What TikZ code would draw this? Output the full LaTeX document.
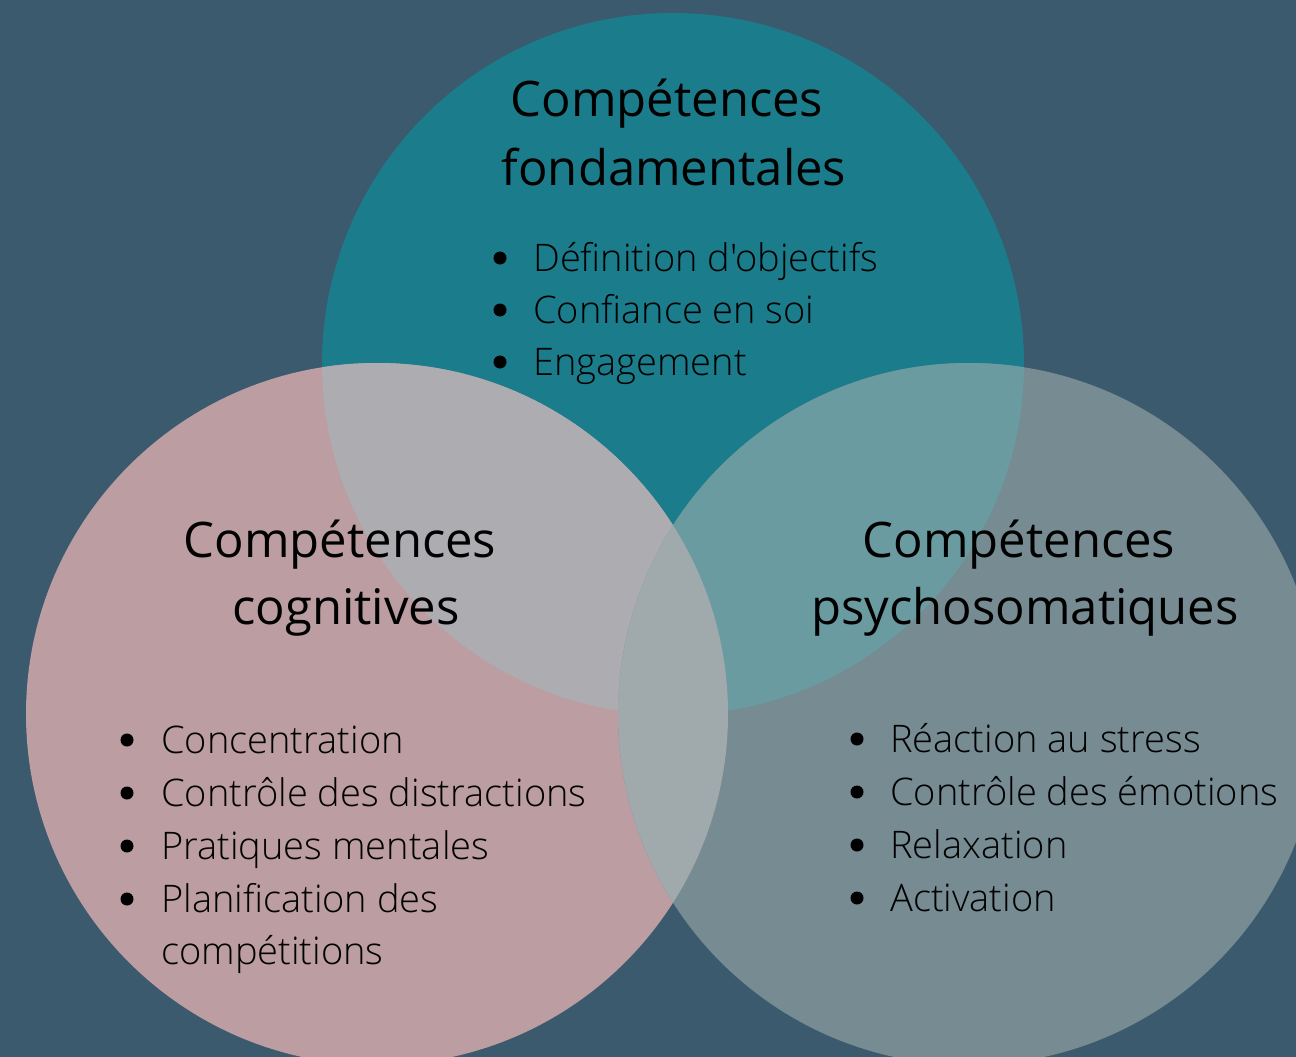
\documentclass[tikz,border=0pt]{standalone}
\usepackage{fontspec}
\setmainfont{Open Sans}
\newfontfamily\lightfont{Open Sans Light}
\usetikzlibrary{calc,positioning}

\definecolor{fond}{HTML}{3B5A6D}
\definecolor{sarcelle}{HTML}{1B7D8C}
\definecolor{rose}{HTML}{BB9DA2}
\definecolor{gris}{HTML}{768B92}
\definecolor{rosesarcelle}{HTML}{ADACB0}
\definecolor{sarcellegris}{HTML}{699BA0}
\definecolor{rosegris}{HTML}{A0AAAC}

\begin{document}
\begin{tikzpicture}[x=1pt,y=-1pt,
		titre/.style={anchor=base,inner sep=0pt,font=\fontsize{49}{67}\selectfont},
		item/.style={anchor=base west,inner sep=0pt,font=\lightfont\fontsize{38}{53}\selectfont},
		puce/.style={circle,fill=black,inner sep=0pt,minimum size=13pt}]
		\fill[fond] (0,0) rectangle (1296,1057);
		\useasboundingbox (0,0) rectangle (1296,1057);
		\coordinate (ct) at (673,364);
		\coordinate (cl) at (377,714);
		\coordinate (cr) at (969,714);
		\fill[sarcelle] (ct) circle (351pt);
		\fill[rose] (cl) circle (351pt);
		\fill[gris] (cr) circle (351pt);
		% intersections
		\begin{scope}
			\clip (ct) circle (351pt);
			\fill[rosesarcelle] (cl) circle (351pt);
			\fill[sarcellegris] (cr) circle (351pt);
		\end{scope}
		\begin{scope}
			\clip (cl) circle (351pt);
			\fill[rosegris] (cr) circle (351pt);
		\end{scope}

		% titres
		\node[titre] (tf1) at (667,117) {Compétences};
		\node[titre] (tf2) at (674,185) {fondamentales};
		\node[titre] (tc1) at (340,557) {Compétences};
		\node[titre] (tc2) at (346,624) {cognitives};
		\node[titre] (tp1) at (1019,557) {Compétences};
		\node[titre] (tp2) at (1025,624) {psychosomatiques};

		% listes
		\foreach \txt [count=\i] in {{Définition d'objectifs},{Confiance en soi},{Engagement}}{
			\node[item] (lf\i) at (533,{271+52*(\i-1)}) {\txt};
			\node[puce] (pf\i) at ($(lf\i.base west)+(-33,-13)$) {};
		}
		\foreach \txt [count=\i] in {{Concentration},{Contrôle des distractions},{Pratiques mentales},{Planification des}}{
			\node[item] (lc\i) at (161,{753+53*(\i-1)}) {\txt};
			\node[puce] (pc\i) at ($(lc\i.base west)+(-34,-13)$) {};
		}
		\node[item] (lc5) at ($(lc4.base west)+(0,52)$) {compétitions};
		\foreach \txt [count=\i] in {{Réaction au stress},{Contrôle des émotions},{Relaxation},{Activation}}{
			\node[item] (lp\i) at (890,{752+53*(\i-1)}) {\txt};
			\node[puce] (pp\i) at ($(lp\i.base west)+(-33,-13)$) {};
		}
	\end{tikzpicture}
\end{document}
